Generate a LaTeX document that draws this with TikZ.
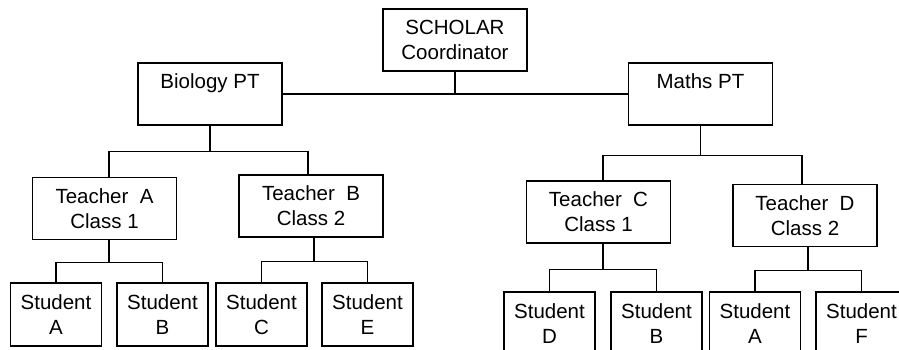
\documentclass[tikz,border=0pt]{standalone}
\usepackage{fontspec}
\setmainfont{Liberation Sans}

\begin{document}
\begin{tikzpicture}[x=1pt,y=-1pt,line width=1.3pt,
    box/.style={draw,rectangle,align=center,inner sep=0pt,font=\fontsize{20.5}{25}\selectfont},
    head/.style={box,minimum width=144pt,minimum height=62pt},
    stud/.style={box,minimum width=91pt,minimum height=63pt}]
                        \useasboundingbox (0,0) rectangle (899,350);
                        \clip (0,0) rectangle (899,350);

                        \node (sch) at (455,40) [head] {SCHOLAR\\Coordinator};
                        \node (bio) at (210,94) [head] {Biology PT\\\phantom{X}};
                        \node (mat) at (700.5,94) [head] {Maths PT\\\phantom{X}};

                        \node (ta) at (104.5,208.5) [head] {Teacher~ A\\Class 1};
                        \node (tb) at (311,206) [head] {Teacher~ B\\Class 2};
                        \node (tc) at (598.5,212) [head] {Teacher~ C\\Class 1};
                        \node (td) at (805,215.5) [head] {Teacher~ D\\Class 2};

                        \node (sa) at (56,314.5) [stud] {Student\\A};
                        \node (sb) at (162.5,314.5) [stud] {Student\\B};
                        \node (sc) at (261.5,314.5) [stud] {Student\\C};
                        \node (se) at (367.5,314.5) [stud] {Student\\E};
                        \node (sd) at (549.5,323.5) [stud] {Student\\D};
                        \node (sb2) at (656.5,323.5) [stud] {Student\\B};
                        \node (sa2) at (755,323.5) [stud] {Student\\A};
                        \node (sf) at (861.5,323.5) [stud] {Student\\F};

                        % top level
                        \draw (bio) -- (mat) (sch.south) -- (sch.south |- bio);
                        % biology side
                        \draw (bio.south) -- ++(0,26) coordinate (bj);
                        \draw ([xshift=4.5pt]ta.north) |- (bj) -| ([xshift=-3pt]tb.north);
                        \draw ([xshift=4.5pt]ta.south) -- ++(0,22) coordinate (aj);
                        \draw (sa.north) |- (aj) -| (sb.north);
                        \draw ([xshift=3pt]tb.south) -- ++(0,24) coordinate (bbj);
                        \draw (sc.north) |- (bbj) -| (se.north);
                        % maths side
                        \draw (mat.south) -- ++(0,30) coordinate (mj);
                        \draw ([xshift=4.5pt]tc.north) |- (mj) -| ([xshift=-3pt]td.north);
                        \draw ([xshift=4.5pt]tc.south) -- ++(0,26) coordinate (cj);
                        \draw (sd.north) |- (cj) -| (sb2.north);
                        \draw ([xshift=3pt]td.south) -- ++(0,23) coordinate (dj);
                        \draw (sa2.north) |- (dj) -| (sf.north);
                \end{tikzpicture}
\end{document}
